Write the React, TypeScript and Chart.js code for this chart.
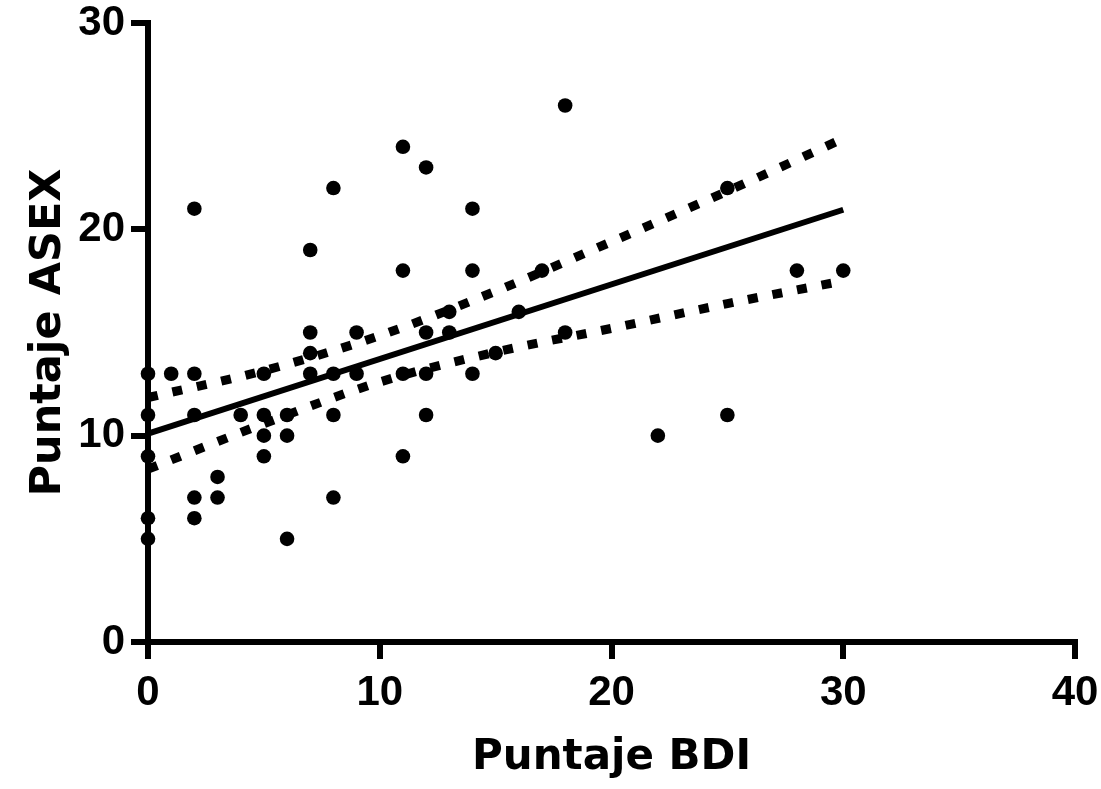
import React, { useEffect, useRef } from "react";
import { Chart, registerables } from "chart.js";

Chart.register(...registerables);

// Scatter data: Puntaje BDI (x) vs Puntaje ASEX (y)
const bdiScores = [
  0, 0, 0, 0, 0,
  1,
  2, 2, 2, 2, 2,
  3, 3,
  4,
  5, 5, 5, 5,
  6, 6, 6,
  7, 7, 7, 7,
  8, 8, 8, 8,
  9, 9,
  11, 11, 11, 11,
  12, 12, 12, 12,
  13, 13,
  14, 14, 14,
  15,
  16,
  17,
  18, 18,
  22,
  25, 25,
  28,
  30,
];
const asexScores = [
  13, 11, 9, 6, 5,
  13,
  21, 13, 11, 7, 6,
  8, 7,
  11,
  13, 11, 10, 9,
  11, 10, 5,
  19, 15, 14, 13,
  22, 13, 11, 7,
  15, 13,
  24, 18, 13, 9,
  23, 15, 13, 11,
  16, 15,
  21, 18, 13,
  14,
  16,
  18,
  26, 15,
  10,
  22, 11,
  18,
  18,
];

// Regression line
const fitX = [0, 30];
const fitY = [10.1, 20.95];

// 95% confidence band
const bandX = [0, 5, 10, 15, 20, 25, 30];
const bandUpper = [11.85, 13.15, 14.85, 17.0, 19.4, 21.85, 24.4];
const bandLower = [8.38, 10.58, 12.6, 14.05, 15.2, 16.4, 17.5];

// Axes
const xTicks = [0, 10, 20, 30, 40];
const yTicks = [0, 10, 20, 30];
const xTitle = "Puntaje BDI";
const yTitle = "Puntaje ASEX";

const W = 1101;
const H = 789;

export default function App() {
  const ref = useRef<HTMLCanvasElement | null>(null);

  useEffect(() => {
    const canvas = ref.current;
    if (!canvas) return;

    const points = bdiScores.map((x, i) => ({ x, y: asexScores[i] }));
    const fit = fitX.map((x, i) => ({ x, y: fitY[i] }));
    const upper = bandX.map((x, i) => ({ x, y: bandUpper[i] }));
    const lower = bandX.map((x, i) => ({ x, y: bandLower[i] }));

    const tickFont = { family: "'Liberation Sans', Arial, sans-serif", size: 42, weight: "bold" as const, lineHeight: 1 };

    const lineBase = {
      type: "line" as const,
      showLine: true,
      pointRadius: 0,
      pointHoverRadius: 0,
      borderColor: "#000",
      backgroundColor: "#000",
      fill: false,
      clip: false as any,
    };

    const chart = new Chart(canvas, {
      type: "scatter",
      data: {
        datasets: [
          {
            ...lineBase,
            data: fit,
            borderWidth: 6,
            tension: 0,
          },
          {
            ...lineBase,
            data: upper,
            borderWidth: 9,
            borderDash: [10, 15],
            cubicInterpolationMode: "monotone",
          },
          {
            ...lineBase,
            data: lower,
            borderWidth: 9,
            borderDash: [10, 15],
            cubicInterpolationMode: "monotone",
          },
          {
            type: "scatter",
            data: points,
            pointRadius: 7.3,
            pointHoverRadius: 7.3,
            pointStyle: "circle",
            backgroundColor: "#000",
            borderColor: "#000",
            borderWidth: 0,
            clip: false as any,
          },
        ] as any,
      },
      options: {
        responsive: false,
        animation: false,
        devicePixelRatio: 1,
        layout: { padding: { top: 23, right: 26, left: 0, bottom: 0 } },
        plugins: {
          legend: { display: false },
          tooltip: { enabled: false },
        },
        scales: {
          x: {
            type: "linear",
            min: 0,
            max: 40,
            afterBuildTicks: (scale: any) => {
              scale.ticks = xTicks.map((v) => ({ value: v }));
            },
            afterFit: (scale: any) => {
              scale.height = H - 642;
              scale.paddingLeft = 0;
              scale.paddingRight = 0;
            },
            ticks: {
              color: "#000",
              font: tickFont,
              padding: 13,
              maxRotation: 0,
              autoSkip: false,
            },
            grid: {
              display: true,
              drawOnChartArea: false,
              drawTicks: true,
              tickLength: 17,
              tickWidth: 6,
              tickColor: "#000",
              color: "#000",
              lineWidth: 6,
            },
            border: { display: true, color: "#000", width: 6 },
            title: {
              display: true,
              text: xTitle,
              color: "#000",
              font: { family: "'DejaVu Sans', sans-serif", size: 42, weight: "bold", lineHeight: 1 },
              padding: { top: 0, bottom: 10 },
            },
          },
          y: {
            type: "linear",
            min: 0,
            max: 30,
            afterBuildTicks: (scale: any) => {
              scale.ticks = yTicks.map((v) => ({ value: v }));
            },
            afterFit: (scale: any) => {
              scale.width = 148;
              scale.paddingTop = 0;
              scale.paddingBottom = 0;
            },
            ticks: {
              color: "#000",
              font: tickFont,
              padding: 6,
              autoSkip: false,
            },
            grid: {
              display: true,
              drawOnChartArea: false,
              drawTicks: true,
              tickLength: 17,
              tickWidth: 6,
              tickColor: "#000",
              color: "#000",
              lineWidth: 6,
            },
            border: { display: true, color: "#000", width: 6 },
            title: {
              display: true,
              text: yTitle,
              color: "#000",
              font: { family: "'DejaVu Sans', sans-serif", size: 43, weight: "bold", lineHeight: 1 },
              padding: { top: 27, bottom: 0 },
            },
          },
        },
      } as any,
    });

    return () => chart.destroy();
  }, []);

  return (
    <div style={{ position: "absolute", left: 0, top: 0, width: W, height: H, background: "#fff" }}>
      <canvas ref={ref} width={W} height={H} style={{ width: W, height: H, display: "block" }} />
    </div>
  );
}
